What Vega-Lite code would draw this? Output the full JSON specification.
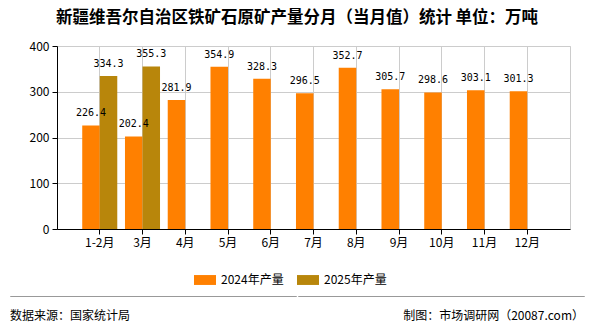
{
  "$schema": "https://vega.github.io/schema/vega-lite/v6.json",
  "background": "white",
  "padding": {"left": 9, "right": 8, "top": 10, "bottom": 4},
  "config": {"view": {"stroke": null}, "font": "Noto Sans CJK SC", "legend": {"layout": {"anchor": "middle", "bottom": {"anchor": "middle"}}}},
  "title": {"text": "新疆维吾尔自治区铁矿石原矿产量分月（当月值）统计 单位：万吨", "fontSize": 16.5, "font": "Noto Sans CJK SC", "fontWeight": "bold", "anchor": "middle", "offset": 13, "color": "#000"},
  "resolve": {"legend": {"color": "independent"}},
  "spacing": 3,
  "vconcat": [
    {
      "spacing": 0,
      "hconcat": [
        {
          "width": 1, "height": 1,
          "data": {"values": [{}]},
          "mark": {"type": "text", "text": ""}
        },
        {
          "width": 513,
          "height": 183,
          "view": {"stroke": "#cccccc"},
          "data": {"values": [
            {"month": "1-2月", "series": "2024年产量", "value": 226.4},
            {"month": "1-2月", "series": "2025年产量", "value": 334.3},
            {"month": "3月", "series": "2024年产量", "value": 202.4},
            {"month": "3月", "series": "2025年产量", "value": 355.3},
            {"month": "4月", "series": "2024年产量", "value": 281.9},
            {"month": "5月", "series": "2024年产量", "value": 354.9},
            {"month": "6月", "series": "2024年产量", "value": 328.3},
            {"month": "7月", "series": "2024年产量", "value": 296.5},
            {"month": "8月", "series": "2024年产量", "value": 352.7},
            {"month": "9月", "series": "2024年产量", "value": 305.7},
            {"month": "10月", "series": "2024年产量", "value": 298.6},
            {"month": "11月", "series": "2024年产量", "value": 303.1},
            {"month": "12月", "series": "2024年产量", "value": 301.3}
          ]},
          "encoding": {
            "x": {"field": "month", "type": "nominal", "sort": null,
              "scale": {"domain": ["1-2月","3月","4月","5月","6月","7月","8月","9月","10月","11月","12月"], "paddingInner": 0, "paddingOuter": 0.5},
              "axis": {"title": null, "labelAngle": 0, "labelFontSize": 12, "labelColor": "#000", "labelPadding": 3, "tickColor": "#000", "tickSize": 5, "domainColor": "#000", "grid": true, "gridColor": "#cccccc"}},
            "xOffset": {"field": "series", "type": "nominal", "scale": {"domain": ["2024年产量", "2025年产量"], "paddingInner": 0, "paddingOuter": 0.22}},
            "y": {"field": "value", "type": "quantitative",
              "scale": {"domain": [0, 400], "nice": false},
              "axis": {"title": null, "values": [0, 100, 200, 300, 400], "labelFontSize": 12, "labelColor": "#000", "labelPadding": 3, "tickColor": "#000", "tickSize": 5, "domainColor": "#000", "gridColor": "#cccccc", "minExtent": 45}}
          },
          "layer": [
            {
              "mark": {"type": "bar"},
              "encoding": {
                "color": {"field": "series", "type": "nominal",
                  "scale": {"domain": ["2024年产量", "2025年产量"], "range": ["#FF8000", "#B8860B"]},
                  "legend": {"title": null, "orient": "bottom", "direction": "horizontal", "offset": 20, "labelFontSize": 12, "labelColor": "#000", "symbolType": "M-1,-0.45H1V0.45H-1Z", "symbolSize": 484, "symbolStrokeWidth": 0, "labelOffset": 5, "columnPadding": 13}}
              }
            },
            {
              "mark": {"type": "text", "font": "DejaVu Sans Mono", "fontSize": 10, "dy": -9, "baseline": "alphabetic", "color": "#000"},
              "encoding": {"text": {"field": "value", "type": "quantitative", "format": ".1f"}}
            }
          ]
        }
      ]
    },
    {
      "hconcat": [
        {
          "width": 286, "height": 0.01,
          "view": {"stroke": "#999999"},
          "data": {"values": [{}]},
          "mark": {"type": "text", "text": ""},
          "title": {"text": "数据来源：国家统计局", "orient": "bottom", "anchor": "start", "fontSize": 12, "fontWeight": "normal", "color": "#000", "offset": 10}
        },
        {
          "width": 286, "height": 0.01,
          "view": {"stroke": "#999999"},
          "data": {"values": [{}]},
          "mark": {"type": "text", "text": ""},
          "title": {"text": "制图：市场调研网（20087.com）", "orient": "bottom", "anchor": "end", "fontSize": 12, "fontWeight": "normal", "color": "#000", "offset": 10}
        }
      ],
      "spacing": 0
    }
  ]
}
